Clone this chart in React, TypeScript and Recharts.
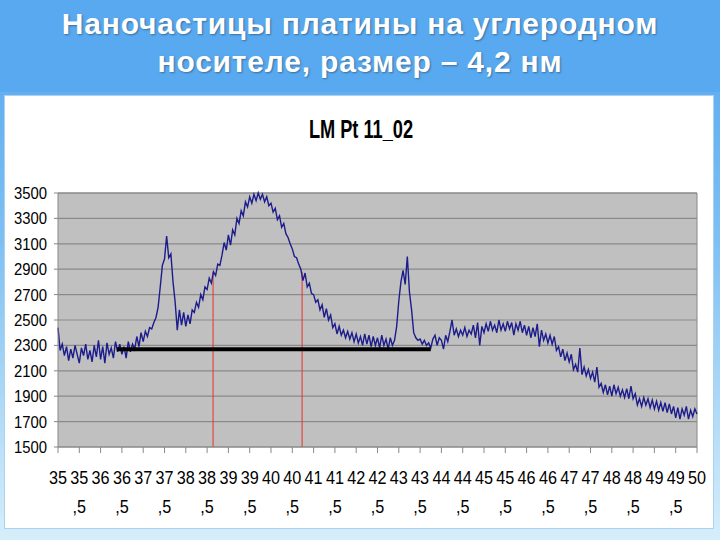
import React from 'react'
import {
  ComposedChart,
  Line,
  XAxis,
  YAxis,
  CartesianGrid,
  ReferenceLine,
} from 'recharts'

// Diffraction scan LM Pt 11_02, 2θ from 35 to 50 in 0.05 steps
const angleStart = 35
const angleStep = 0.05

const intensity = [
  2440, 2260, 2310, 2220, 2290, 2180, 2270, 2200, 2300, 2230,
  2160, 2280, 2220, 2310, 2190, 2260, 2170, 2300, 2210, 2340,
  2190, 2290, 2160, 2320, 2230, 2280, 2200, 2330, 2250, 2310,
  2230, 2290, 2200, 2330, 2250, 2310, 2270, 2370, 2290, 2400,
  2330, 2410, 2370, 2440, 2430, 2480, 2520, 2600, 2760, 2930,
  2980, 3160, 2990, 3020, 2800, 2640, 2420, 2580, 2460, 2560,
  2450, 2540, 2470, 2580, 2560, 2640, 2600, 2700, 2660, 2760,
  2740, 2830, 2790, 2880, 2850, 2940, 2930, 3010, 3110, 3050,
  3170, 3090, 3210, 3170, 3300, 3260, 3360, 3320, 3430, 3390,
  3470, 3420, 3490, 3440, 3500, 3450, 3490, 3430, 3470, 3400,
  3420, 3350, 3380, 3290, 3320, 3230, 3260, 3180, 3150, 3100,
  3060, 3000, 2990, 2940, 2900, 2810, 2870, 2760, 2790, 2710,
  2700, 2640, 2660, 2580, 2620, 2520, 2590, 2500, 2540, 2440,
  2470, 2390, 2450, 2380, 2420, 2360, 2410, 2350, 2400, 2330,
  2390, 2320, 2370, 2300, 2390, 2310, 2380, 2290, 2370, 2300,
  2360, 2280, 2380, 2300, 2350, 2270, 2360, 2300, 2340, 2450,
  2650, 2800, 2890, 2780, 3000, 2720, 2580, 2400, 2360, 2340,
  2350, 2310, 2340, 2300, 2320, 2280, 2350, 2380, 2300, 2360,
  2340, 2270, 2380, 2330, 2410, 2500, 2380, 2430, 2370, 2420,
  2380, 2440, 2370, 2420, 2390, 2460, 2360, 2480, 2300, 2450,
  2400, 2470, 2410, 2490, 2420, 2460, 2400, 2500, 2420, 2470,
  2410, 2490, 2430, 2480, 2380, 2470, 2420, 2490, 2400, 2460,
  2380, 2450, 2360, 2440, 2370, 2470, 2290, 2420, 2340, 2390,
  2320, 2380, 2310, 2370, 2260, 2290, 2210, 2270, 2180, 2240,
  2170, 2230, 2110, 2150, 2090, 2280, 2070, 2130, 2060, 2110,
  2040, 2090, 2010, 2130, 1970, 2000, 1930, 1990, 1910, 1980,
  1900, 1990, 1920, 1970, 1900, 1950, 1890, 1960, 1880, 1980,
  1880, 1920, 1830, 1880, 1820, 1890, 1830, 1880, 1810, 1870,
  1800, 1860, 1790, 1850, 1780, 1850, 1770, 1840, 1760, 1820,
  1730, 1810, 1720, 1800, 1750, 1820, 1720, 1790, 1740, 1800,
  1760,
]

const xTicks = [
  35, 35.5, 36, 36.5, 37, 37.5, 38, 38.5, 39, 39.5, 40, 40.5, 41, 41.5, 42,
  42.5, 43, 43.5, 44, 44.5, 45, 45.5, 46, 46.5, 47, 47.5, 48, 48.5, 49, 49.5, 50,
]
const yTicks = [1500, 1700, 1900, 2100, 2300, 2500, 2700, 2900, 3100, 3300, 3500]

// marker lines drawn on the slide
const halfWidthLeft = 38.64
const halfWidthRight = 40.73
const halfWidthTop = 2880
const baselineFrom = 36.38
const baselineTo = 43.75
const baselineLevel = 2270

const data = intensity.map((v, i) => ({
  angle: Math.round((angleStart + i * angleStep) * 100) / 100,
  value: v,
}))

const sans = 'Arial, "Liberation Sans", sans-serif'

function AngleTick(props: any) {
  const { x, y, payload } = props
  const v: number = payload.value
  const whole = Math.floor(v)
  const half = v !== whole
  return (
    <g transform={`translate(${x},${y}) scale(0.9,1)`}>
      <text x={0} y={29} textAnchor="middle" fontFamily={sans} fontSize={18} fill="#000">
        {whole}
      </text>
      {half && (
        <text x={0} y={58} textAnchor="middle" fontFamily={sans} fontSize={18} fill="#000">
          ,5
        </text>
      )}
    </g>
  )
}

function CountTick(props: any) {
  const { x, y, payload } = props
  return (
    <g transform={`translate(${x},${y}) scale(0.9,1)`}>
      <text x={0} y={6} textAnchor="end" fontFamily={sans} fontSize={16.5} fill="#000">
        {payload.value}
      </text>
    </g>
  )
}

export default function App() {
  return (
    <div
      style={{
        position: 'absolute',
        left: 0,
        top: 0,
        width: 720,
        height: 540,
        background: 'linear-gradient(to bottom, #53a5ef 0%, #7fc0f3 45%, #d6eefa 100%)',
        overflow: 'hidden',
      }}
    >
      <div
        style={{
          position: 'absolute',
          left: 0,
          top: 0,
          width: 720,
          height: 92,
          background: '#58a9f0',
        }}
      />
      <div
        style={{
          position: 'absolute',
          left: 0,
          top: 5,
          width: 720,
          textAlign: 'center',
          color: '#fff',
          fontFamily: sans,
          fontWeight: 'bold',
          fontSize: 30,
          letterSpacing: 0.8,
          lineHeight: '38px',
          textShadow: '1px 1px 2px rgba(0,0,0,0.35)',
        }}
      >
        Наночастицы платины на углеродном
        <br />
        носителе, размер – 4,2 нм
      </div>
      <div
        style={{
          position: 'absolute',
          left: 4,
          top: 95,
          width: 708,
          height: 432,
          background: '#fff',
          border: '1px solid #a9d3f0',
        }}
      />
      <div
        style={{
          position: 'absolute',
          left: 0,
          top: 113,
          width: 722,
          textAlign: 'center',
          fontFamily: sans,
          fontWeight: 'bold',
          fontSize: 26,
          lineHeight: '32px',
          color: '#000',
          transform: 'scaleX(0.7)',
        }}
      >
        LM Pt 11_02
      </div>
      <div style={{ position: 'absolute', left: 0, top: 0 }}>
        <ComposedChart
          width={720}
          height={540}
          data={data}
          margin={{ top: 193, right: 23, bottom: 23, left: 4 }}
        >
          <CartesianGrid
            vertical={false}
            fill="#c0c0c0"
            stroke="#8a8a8a"
            strokeWidth={1.2}
          />
          <XAxis
            dataKey="angle"
            type="number"
            domain={[35, 50]}
            ticks={xTicks}
            interval={0}
            height={70}
            axisLine={{ stroke: '#888' }}
            tickLine={{ stroke: '#888' }}
            tickSize={6}
            tick={<AngleTick />}
          />
          <YAxis
            type="number"
            domain={[1500, 3500]}
            ticks={yTicks}
            interval={0}
            width={54}
            axisLine={{ stroke: '#888' }}
            tickLine={{ stroke: '#888' }}
            tickSize={4}
            tickMargin={7}
            tick={<CountTick />}
          />
          <ReferenceLine x={50} stroke="#888" />
          <ReferenceLine y={3500} stroke="#888" />
          <ReferenceLine
            segment={[
              { x: halfWidthLeft, y: 1500 },
              { x: halfWidthLeft, y: halfWidthTop },
            ]}
            stroke="#e8322a"
            strokeWidth={1}
          />
          <ReferenceLine
            segment={[
              { x: halfWidthRight, y: 1500 },
              { x: halfWidthRight, y: halfWidthTop },
            ]}
            stroke="#e8322a"
            strokeWidth={1}
          />
          <Line
            type="linear"
            dataKey="value"
            stroke="#1c1c8c"
            strokeWidth={1.4}
            dot={false}
            isAnimationActive={false}
          />
          <ReferenceLine
            segment={[
              { x: baselineFrom, y: baselineLevel },
              { x: baselineTo, y: baselineLevel },
            ]}
            stroke="#000"
            strokeWidth={4}
          />
        </ComposedChart>
      </div>
    </div>
  )
}
